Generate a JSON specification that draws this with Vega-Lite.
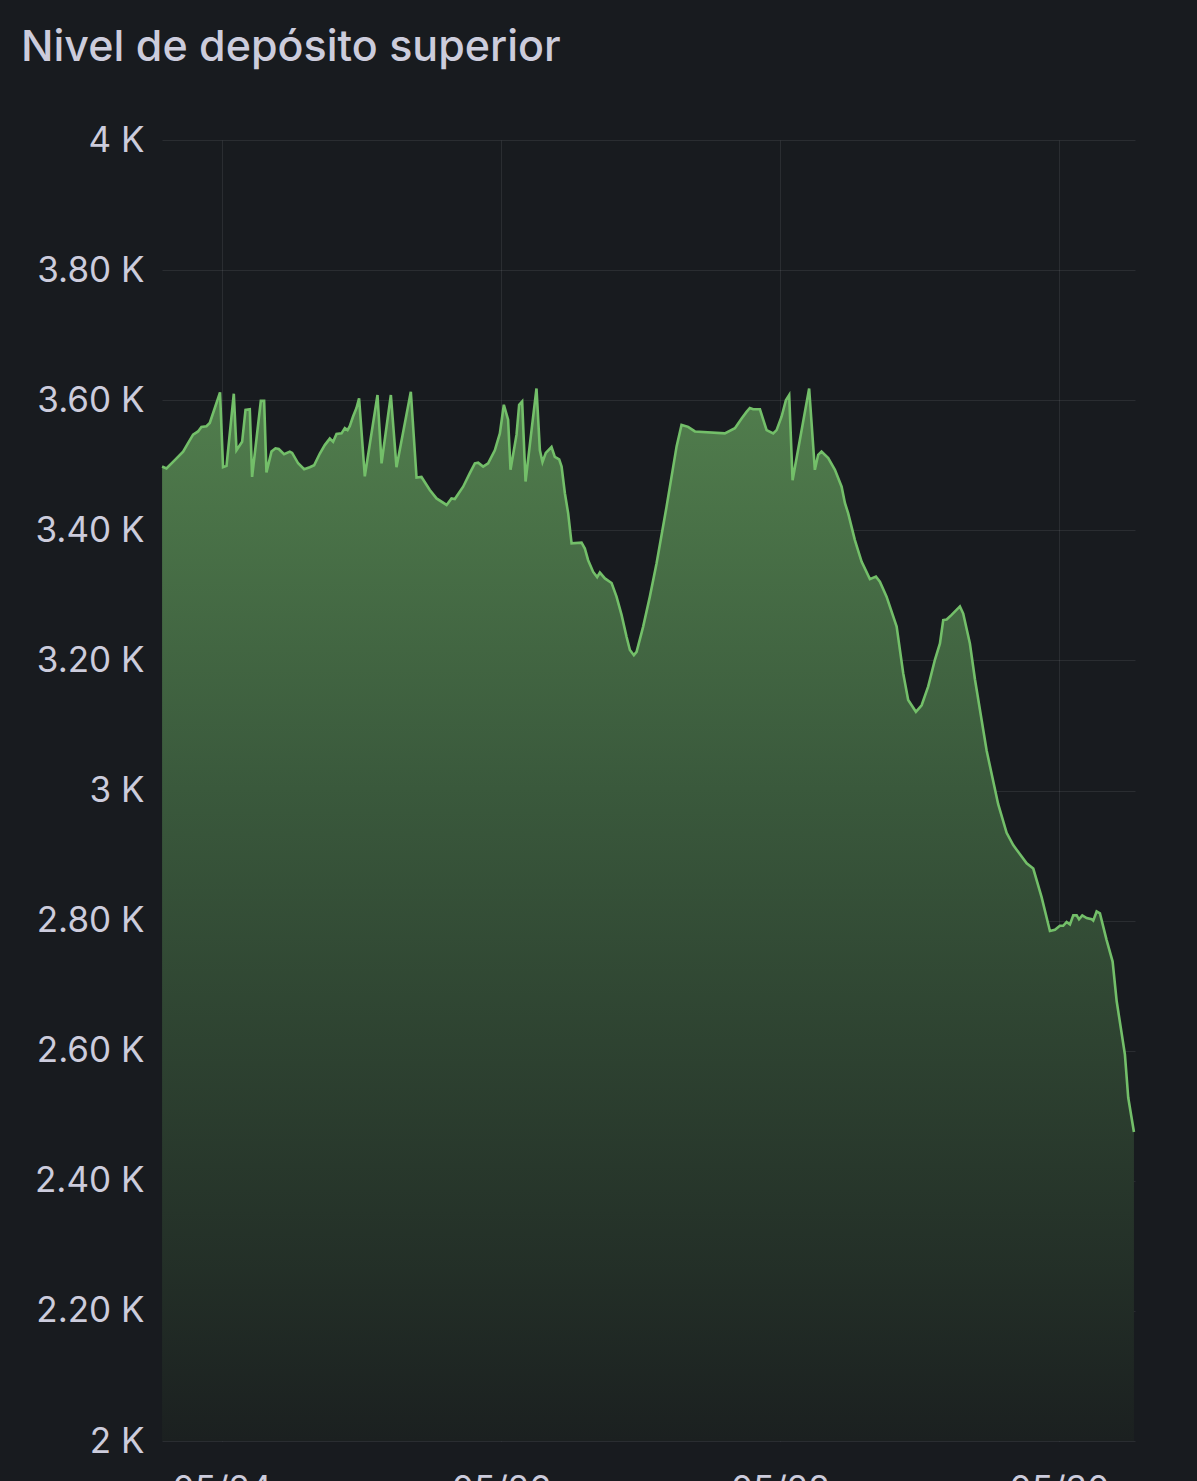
{
  "$schema": "https://vega.github.io/schema/vega-lite/v6.json",
  "autosize": {"type": "none"},
  "width": 973,
  "height": 1301,
  "padding": {"left": 162, "top": 140, "right": 62, "bottom": 40},
  "background": "#181b1f",
  "title": {
    "text": "Nivel de depósito superior",
    "anchor": "start",
    "frame": "group",
    "orient": "top",
    "dx": -141,
    "offset": 19,
    "baseline": "alphabetic",
    "font": "Inter",
    "fontSize": 43,
    "fontWeight": 500,
    "color": "#ccccdc"
  },
  "config": {
    "view": {"stroke": null},
    "axis": {
      "domain": false,
      "ticks": false,
      "gridColor": "#ccccdc",
      "gridOpacity": 0.1,
      "gridWidth": 1,
      "labelFont": "Inter",
      "labelFontSize": 35,
      "labelColor": "#ccccdc",
      "title": null
    }
  },
  "data": {
    "values": [
      {"time": "2024-05-23T13:44", "level": 3498},
      {"time": "2024-05-23T14:29", "level": 3495},
      {"time": "2024-05-23T15:55", "level": 3508},
      {"time": "2024-05-23T17:21", "level": 3521},
      {"time": "2024-05-23T18:12", "level": 3534},
      {"time": "2024-05-23T19:04", "level": 3547},
      {"time": "2024-05-23T19:55", "level": 3552},
      {"time": "2024-05-23T20:30", "level": 3559},
      {"time": "2024-05-23T21:22", "level": 3560},
      {"time": "2024-05-23T21:56", "level": 3565},
      {"time": "2024-05-23T22:48", "level": 3588},
      {"time": "2024-05-23T23:42", "level": 3612},
      {"time": "2024-05-24T00:13", "level": 3497},
      {"time": "2024-05-24T00:49", "level": 3499},
      {"time": "2024-05-24T02:04", "level": 3610},
      {"time": "2024-05-24T02:32", "level": 3523},
      {"time": "2024-05-24T03:30", "level": 3536},
      {"time": "2024-05-24T04:05", "level": 3585},
      {"time": "2024-05-24T04:49", "level": 3586},
      {"time": "2024-05-24T05:13", "level": 3482},
      {"time": "2024-05-24T06:43", "level": 3599},
      {"time": "2024-05-24T07:17", "level": 3599},
      {"time": "2024-05-24T07:41", "level": 3489},
      {"time": "2024-05-24T08:33", "level": 3521},
      {"time": "2024-05-24T09:14", "level": 3526},
      {"time": "2024-05-24T09:48", "level": 3525},
      {"time": "2024-05-24T10:43", "level": 3517},
      {"time": "2024-05-24T11:42", "level": 3521},
      {"time": "2024-05-24T12:06", "level": 3519},
      {"time": "2024-05-24T13:08", "level": 3503},
      {"time": "2024-05-24T14:10", "level": 3494},
      {"time": "2024-05-24T15:08", "level": 3497},
      {"time": "2024-05-24T15:53", "level": 3500},
      {"time": "2024-05-24T16:52", "level": 3518},
      {"time": "2024-05-24T17:43", "level": 3531},
      {"time": "2024-05-24T18:35", "level": 3541},
      {"time": "2024-05-24T19:09", "level": 3536},
      {"time": "2024-05-24T19:44", "level": 3548},
      {"time": "2024-05-24T20:36", "level": 3549},
      {"time": "2024-05-24T21:10", "level": 3557},
      {"time": "2024-05-24T21:38", "level": 3554},
      {"time": "2024-05-24T22:01", "level": 3560},
      {"time": "2024-05-24T22:35", "level": 3575},
      {"time": "2024-05-24T23:10", "level": 3588},
      {"time": "2024-05-24T23:37", "level": 3603},
      {"time": "2024-05-25T00:36", "level": 3483},
      {"time": "2024-05-25T02:47", "level": 3608},
      {"time": "2024-05-25T03:29", "level": 3503},
      {"time": "2024-05-25T05:05", "level": 3608},
      {"time": "2024-05-25T06:03", "level": 3497},
      {"time": "2024-05-25T08:31", "level": 3613},
      {"time": "2024-05-25T09:30", "level": 3481},
      {"time": "2024-05-25T10:21", "level": 3482},
      {"time": "2024-05-25T11:47", "level": 3462},
      {"time": "2024-05-25T12:56", "level": 3449},
      {"time": "2024-05-25T14:40", "level": 3439},
      {"time": "2024-05-25T15:31", "level": 3449},
      {"time": "2024-05-25T16:05", "level": 3448},
      {"time": "2024-05-25T17:31", "level": 3467},
      {"time": "2024-05-25T18:40", "level": 3488},
      {"time": "2024-05-25T19:32", "level": 3503},
      {"time": "2024-05-25T20:06", "level": 3504},
      {"time": "2024-05-25T20:57", "level": 3498},
      {"time": "2024-05-25T21:49", "level": 3503},
      {"time": "2024-05-25T22:58", "level": 3523},
      {"time": "2024-05-25T23:50", "level": 3549},
      {"time": "2024-05-26T00:31", "level": 3593},
      {"time": "2024-05-26T01:15", "level": 3570},
      {"time": "2024-05-26T01:40", "level": 3493},
      {"time": "2024-05-26T02:42", "level": 3547},
      {"time": "2024-05-26T03:09", "level": 3593},
      {"time": "2024-05-26T03:40", "level": 3598},
      {"time": "2024-05-26T04:15", "level": 3475},
      {"time": "2024-05-26T05:17", "level": 3554},
      {"time": "2024-05-26T06:08", "level": 3618},
      {"time": "2024-05-26T06:43", "level": 3523},
      {"time": "2024-05-26T07:10", "level": 3505},
      {"time": "2024-05-26T07:44", "level": 3519},
      {"time": "2024-05-26T08:43", "level": 3528},
      {"time": "2024-05-26T09:17", "level": 3513},
      {"time": "2024-05-26T10:02", "level": 3509},
      {"time": "2024-05-26T10:27", "level": 3498},
      {"time": "2024-05-26T11:01", "level": 3457},
      {"time": "2024-05-26T11:35", "level": 3426},
      {"time": "2024-05-26T12:10", "level": 3380},
      {"time": "2024-05-26T13:53", "level": 3381},
      {"time": "2024-05-26T14:27", "level": 3372},
      {"time": "2024-05-26T15:01", "level": 3354},
      {"time": "2024-05-26T15:53", "level": 3336},
      {"time": "2024-05-26T16:34", "level": 3328},
      {"time": "2024-05-26T17:02", "level": 3335},
      {"time": "2024-05-26T17:54", "level": 3326},
      {"time": "2024-05-26T19:03", "level": 3319},
      {"time": "2024-05-26T19:54", "level": 3298},
      {"time": "2024-05-26T20:46", "level": 3270},
      {"time": "2024-05-26T21:38", "level": 3236},
      {"time": "2024-05-26T22:12", "level": 3216},
      {"time": "2024-05-26T22:53", "level": 3208},
      {"time": "2024-05-26T23:21", "level": 3213},
      {"time": "2024-05-27T00:29", "level": 3252},
      {"time": "2024-05-27T01:38", "level": 3298},
      {"time": "2024-05-27T02:47", "level": 3349},
      {"time": "2024-05-27T04:30", "level": 3436},
      {"time": "2024-05-27T06:14", "level": 3529},
      {"time": "2024-05-27T07:05", "level": 3562},
      {"time": "2024-05-27T08:13", "level": 3559},
      {"time": "2024-05-27T09:23", "level": 3552},
      {"time": "2024-05-27T14:32", "level": 3549},
      {"time": "2024-05-27T16:16", "level": 3557},
      {"time": "2024-05-27T17:25", "level": 3572},
      {"time": "2024-05-27T18:16", "level": 3582},
      {"time": "2024-05-27T18:50", "level": 3588},
      {"time": "2024-05-27T19:24", "level": 3586},
      {"time": "2024-05-27T20:34", "level": 3586},
      {"time": "2024-05-27T21:08", "level": 3570},
      {"time": "2024-05-27T21:43", "level": 3554},
      {"time": "2024-05-27T22:51", "level": 3549},
      {"time": "2024-05-27T23:26", "level": 3554},
      {"time": "2024-05-28T00:18", "level": 3575},
      {"time": "2024-05-28T01:02", "level": 3600},
      {"time": "2024-05-28T01:36", "level": 3608},
      {"time": "2024-05-28T02:11", "level": 3477},
      {"time": "2024-05-28T05:02", "level": 3618},
      {"time": "2024-05-28T06:01", "level": 3493},
      {"time": "2024-05-28T06:35", "level": 3516},
      {"time": "2024-05-28T07:10", "level": 3521},
      {"time": "2024-05-28T08:19", "level": 3511},
      {"time": "2024-05-28T09:28", "level": 3493},
      {"time": "2024-05-28T10:37", "level": 3467},
      {"time": "2024-05-28T11:11", "level": 3442},
      {"time": "2024-05-28T11:45", "level": 3426},
      {"time": "2024-05-28T12:54", "level": 3385},
      {"time": "2024-05-28T14:03", "level": 3352},
      {"time": "2024-05-28T15:29", "level": 3325},
      {"time": "2024-05-28T16:31", "level": 3329},
      {"time": "2024-05-28T17:12", "level": 3321},
      {"time": "2024-05-28T18:21", "level": 3298},
      {"time": "2024-05-28T20:05", "level": 3252},
      {"time": "2024-05-28T21:13", "level": 3180},
      {"time": "2024-05-28T22:04", "level": 3139},
      {"time": "2024-05-28T23:24", "level": 3121},
      {"time": "2024-05-29T00:23", "level": 3131},
      {"time": "2024-05-29T01:31", "level": 3160},
      {"time": "2024-05-29T02:40", "level": 3201},
      {"time": "2024-05-29T03:32", "level": 3226},
      {"time": "2024-05-29T04:06", "level": 3262},
      {"time": "2024-05-29T04:41", "level": 3263},
      {"time": "2024-05-29T05:32", "level": 3270},
      {"time": "2024-05-29T06:58", "level": 3283},
      {"time": "2024-05-29T07:32", "level": 3272},
      {"time": "2024-05-29T08:41", "level": 3226},
      {"time": "2024-05-29T09:33", "level": 3171},
      {"time": "2024-05-29T11:34", "level": 3061},
      {"time": "2024-05-29T13:33", "level": 2979},
      {"time": "2024-05-29T15:00", "level": 2935},
      {"time": "2024-05-29T16:08", "level": 2916},
      {"time": "2024-05-29T18:27", "level": 2888},
      {"time": "2024-05-29T19:35", "level": 2880},
      {"time": "2024-05-29T21:01", "level": 2836},
      {"time": "2024-05-29T22:27", "level": 2784},
      {"time": "2024-05-29T23:19", "level": 2786},
      {"time": "2024-05-30T00:10", "level": 2792},
      {"time": "2024-05-30T00:44", "level": 2792},
      {"time": "2024-05-30T01:19", "level": 2798},
      {"time": "2024-05-30T01:54", "level": 2794},
      {"time": "2024-05-30T02:28", "level": 2808},
      {"time": "2024-05-30T03:03", "level": 2808},
      {"time": "2024-05-30T03:27", "level": 2802},
      {"time": "2024-05-30T04:01", "level": 2808},
      {"time": "2024-05-30T04:46", "level": 2804},
      {"time": "2024-05-30T05:38", "level": 2802},
      {"time": "2024-05-30T05:54", "level": 2800},
      {"time": "2024-05-30T06:29", "level": 2814},
      {"time": "2024-05-30T07:03", "level": 2811},
      {"time": "2024-05-30T08:12", "level": 2770},
      {"time": "2024-05-30T09:14", "level": 2737},
      {"time": "2024-05-30T09:56", "level": 2676},
      {"time": "2024-05-30T11:21", "level": 2594},
      {"time": "2024-05-30T11:55", "level": 2528},
      {"time": "2024-05-30T12:54", "level": 2475}
    ]
  },
  "encoding": {
    "x": {
      "field": "time",
      "type": "temporal",
      "scale": {
        "domain": [
          {"year": 2024, "month": 5, "date": 23, "hours": 13, "minutes": 43},
          {"year": 2024, "month": 5, "date": 30, "hours": 13, "minutes": 5}
        ]
      },
      "axis": {
        "values": [
          {"year": 2024, "month": 5, "date": 24},
          {"year": 2024, "month": 5, "date": 26},
          {"year": 2024, "month": 5, "date": 28},
          {"year": 2024, "month": 5, "date": 30}
        ],
        "format": "%m/%d",
        "labelPadding": 31,
        "labelBaseline": "top"
      }
    },
    "y": {
      "field": "level",
      "type": "quantitative",
      "scale": {"domain": [2000, 4000], "zero": false, "nice": false},
      "axis": {
        "values": [2000, 2200, 2400, 2600, 2800, 3000, 3200, 3400, 3600, 3800, 4000],
        "labelExpr": "datum.value % 1000 == 0 ? format(datum.value / 1000, 'd') + ' K' : format(datum.value / 1000, '.2f') + ' K'",
        "labelPadding": 18
      }
    }
  },
  "layer": [
    {
      "mark": {
        "type": "area",
        "fill": {
          "gradient": "linear",
          "x1": 0, "y1": 0, "x2": 0, "y2": 1,
          "stops": [
            {"offset": 0, "color": "#517e4d"},
            {"offset": 0.38, "color": "#3a593c"},
            {"offset": 1, "color": "#1b2020"}
          ]
        }
      },
      "encoding": {"y2": {"datum": 2000}}
    },
    {
      "mark": {"type": "line", "color": "#73bf69", "strokeWidth": 2.6}
    }
  ]
}
